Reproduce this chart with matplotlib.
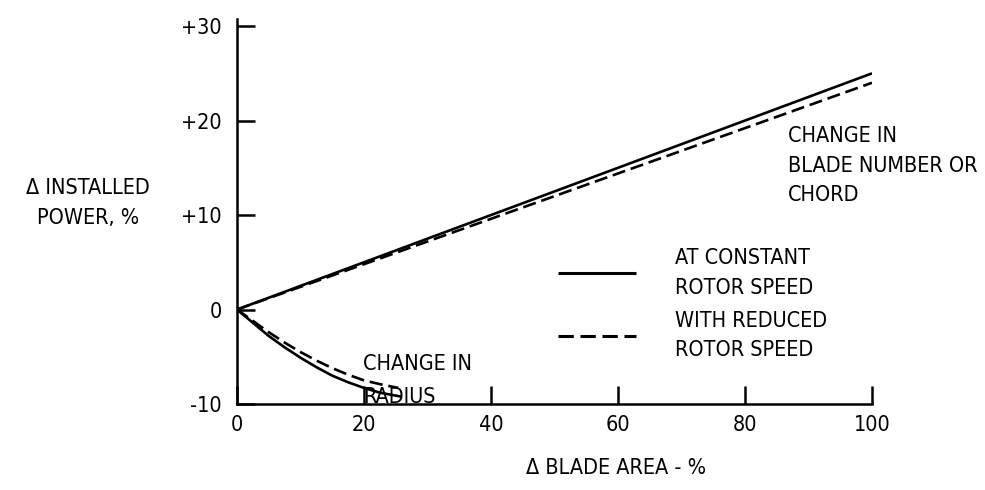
import matplotlib
matplotlib.use("Agg")
import matplotlib.pyplot as plt

plt.rcParams['font.family'] = ['DejaVu Sans']
plt.rcParams['font.stretch'] = 'condensed'

# blade number / chord change
chord_x = [0, 100]
chord_const = [0, 25.0]
chord_reduced = [0, 24.0]

# radius change
radius_x_const = [0, 2.5, 5, 7.5, 10, 12.5, 15, 17.5, 20, 22.5, 25.7]
radius_const = [0, -1.4, -2.8, -4.0, -5.1, -6.1, -7.0, -7.7, -8.3, -8.8, -9.2]
radius_x_reduced = [0, 2.5, 5, 7.5, 10, 12.5, 15, 17.5, 20, 22.5, 25.4]
radius_reduced = [0, -1.2, -2.4, -3.5, -4.5, -5.4, -6.2, -6.9, -7.5, -7.9, -8.3]

xticks = [0, 20, 40, 60, 80, 100]
yticks = [-10, 0, 10, 20, 30]
ytick_labels = ['-10', '0', '+10', '+20', '+30']

fs = 15.5
lw = 1.9

fig = plt.figure(figsize=(9.85, 4.9), dpi=100)
ax = fig.add_axes([237 / 985, 86 / 490, 635 / 985, 385 / 490])

l1, = ax.plot(chord_x, chord_const, color='black', lw=lw, solid_capstyle='butt')
l2, = ax.plot(chord_x, chord_reduced, color='black', lw=lw, dashes=(5, 2.2))
ax.plot(radius_x_const, radius_const, color='black', lw=lw)
ax.plot(radius_x_reduced, radius_reduced, color='black', lw=lw, dashes=(5, 2.2))

ax.set_xlim(0, 100)
ax.set_ylim(-10, 30.75)
ax.spines['top'].set_visible(False)
ax.spines['right'].set_visible(False)
for s in ['left', 'bottom']:
    ax.spines[s].set_linewidth(1.8)

ax.set_xticks(xticks)
ax.set_yticks(yticks)
ax.set_yticklabels(ytick_labels)
ax.tick_params(direction='in', length=13, width=1.8, labelsize=fs)
ax.tick_params(axis='x', pad=8)
ax.tick_params(axis='y', pad=11)

ax.set_xlabel('Δ BLADE AREA - %', fontsize=fs, va='center')
ax.xaxis.set_label_coords((616 - 237) / 635, (404 - 468) / 385)
ax.set_ylabel('Δ INSTALLED\nPOWER, %', fontsize=fs, rotation=0,
              ha='center', va='center', linespacing=1.65)
ax.yaxis.set_label_coords((88 - 237) / 635, (404 - 203) / 385)

ax.text(19.8, -4.7, 'CHANGE IN\nRADIUS', fontsize=fs, va='top', ha='left',
        linespacing=1.8)
ax.text(86.8, 19.4, 'CHANGE IN\nBLADE NUMBER OR\nCHORD', fontsize=fs,
        va='top', ha='left', linespacing=1.6)

leg = ax.legend([l1, l2], ['AT CONSTANT\nROTOR SPEED', 'WITH REDUCED\nROTOR SPEED'],
                loc='upper left', bbox_to_anchor=(558 / 985, 1 - 248 / 490),
                bbox_transform=fig.transFigure, frameon=False, fontsize=fs,
                handlelength=3.6, handletextpad=1.85, labelspacing=0.6,
                borderpad=0, borderaxespad=0)
for t in leg.get_texts():
    t.set_linespacing(1.6)
for h in leg.legend_handles:
    h.set_linewidth(2.2)

fig.savefig('out.png', dpi=100)
